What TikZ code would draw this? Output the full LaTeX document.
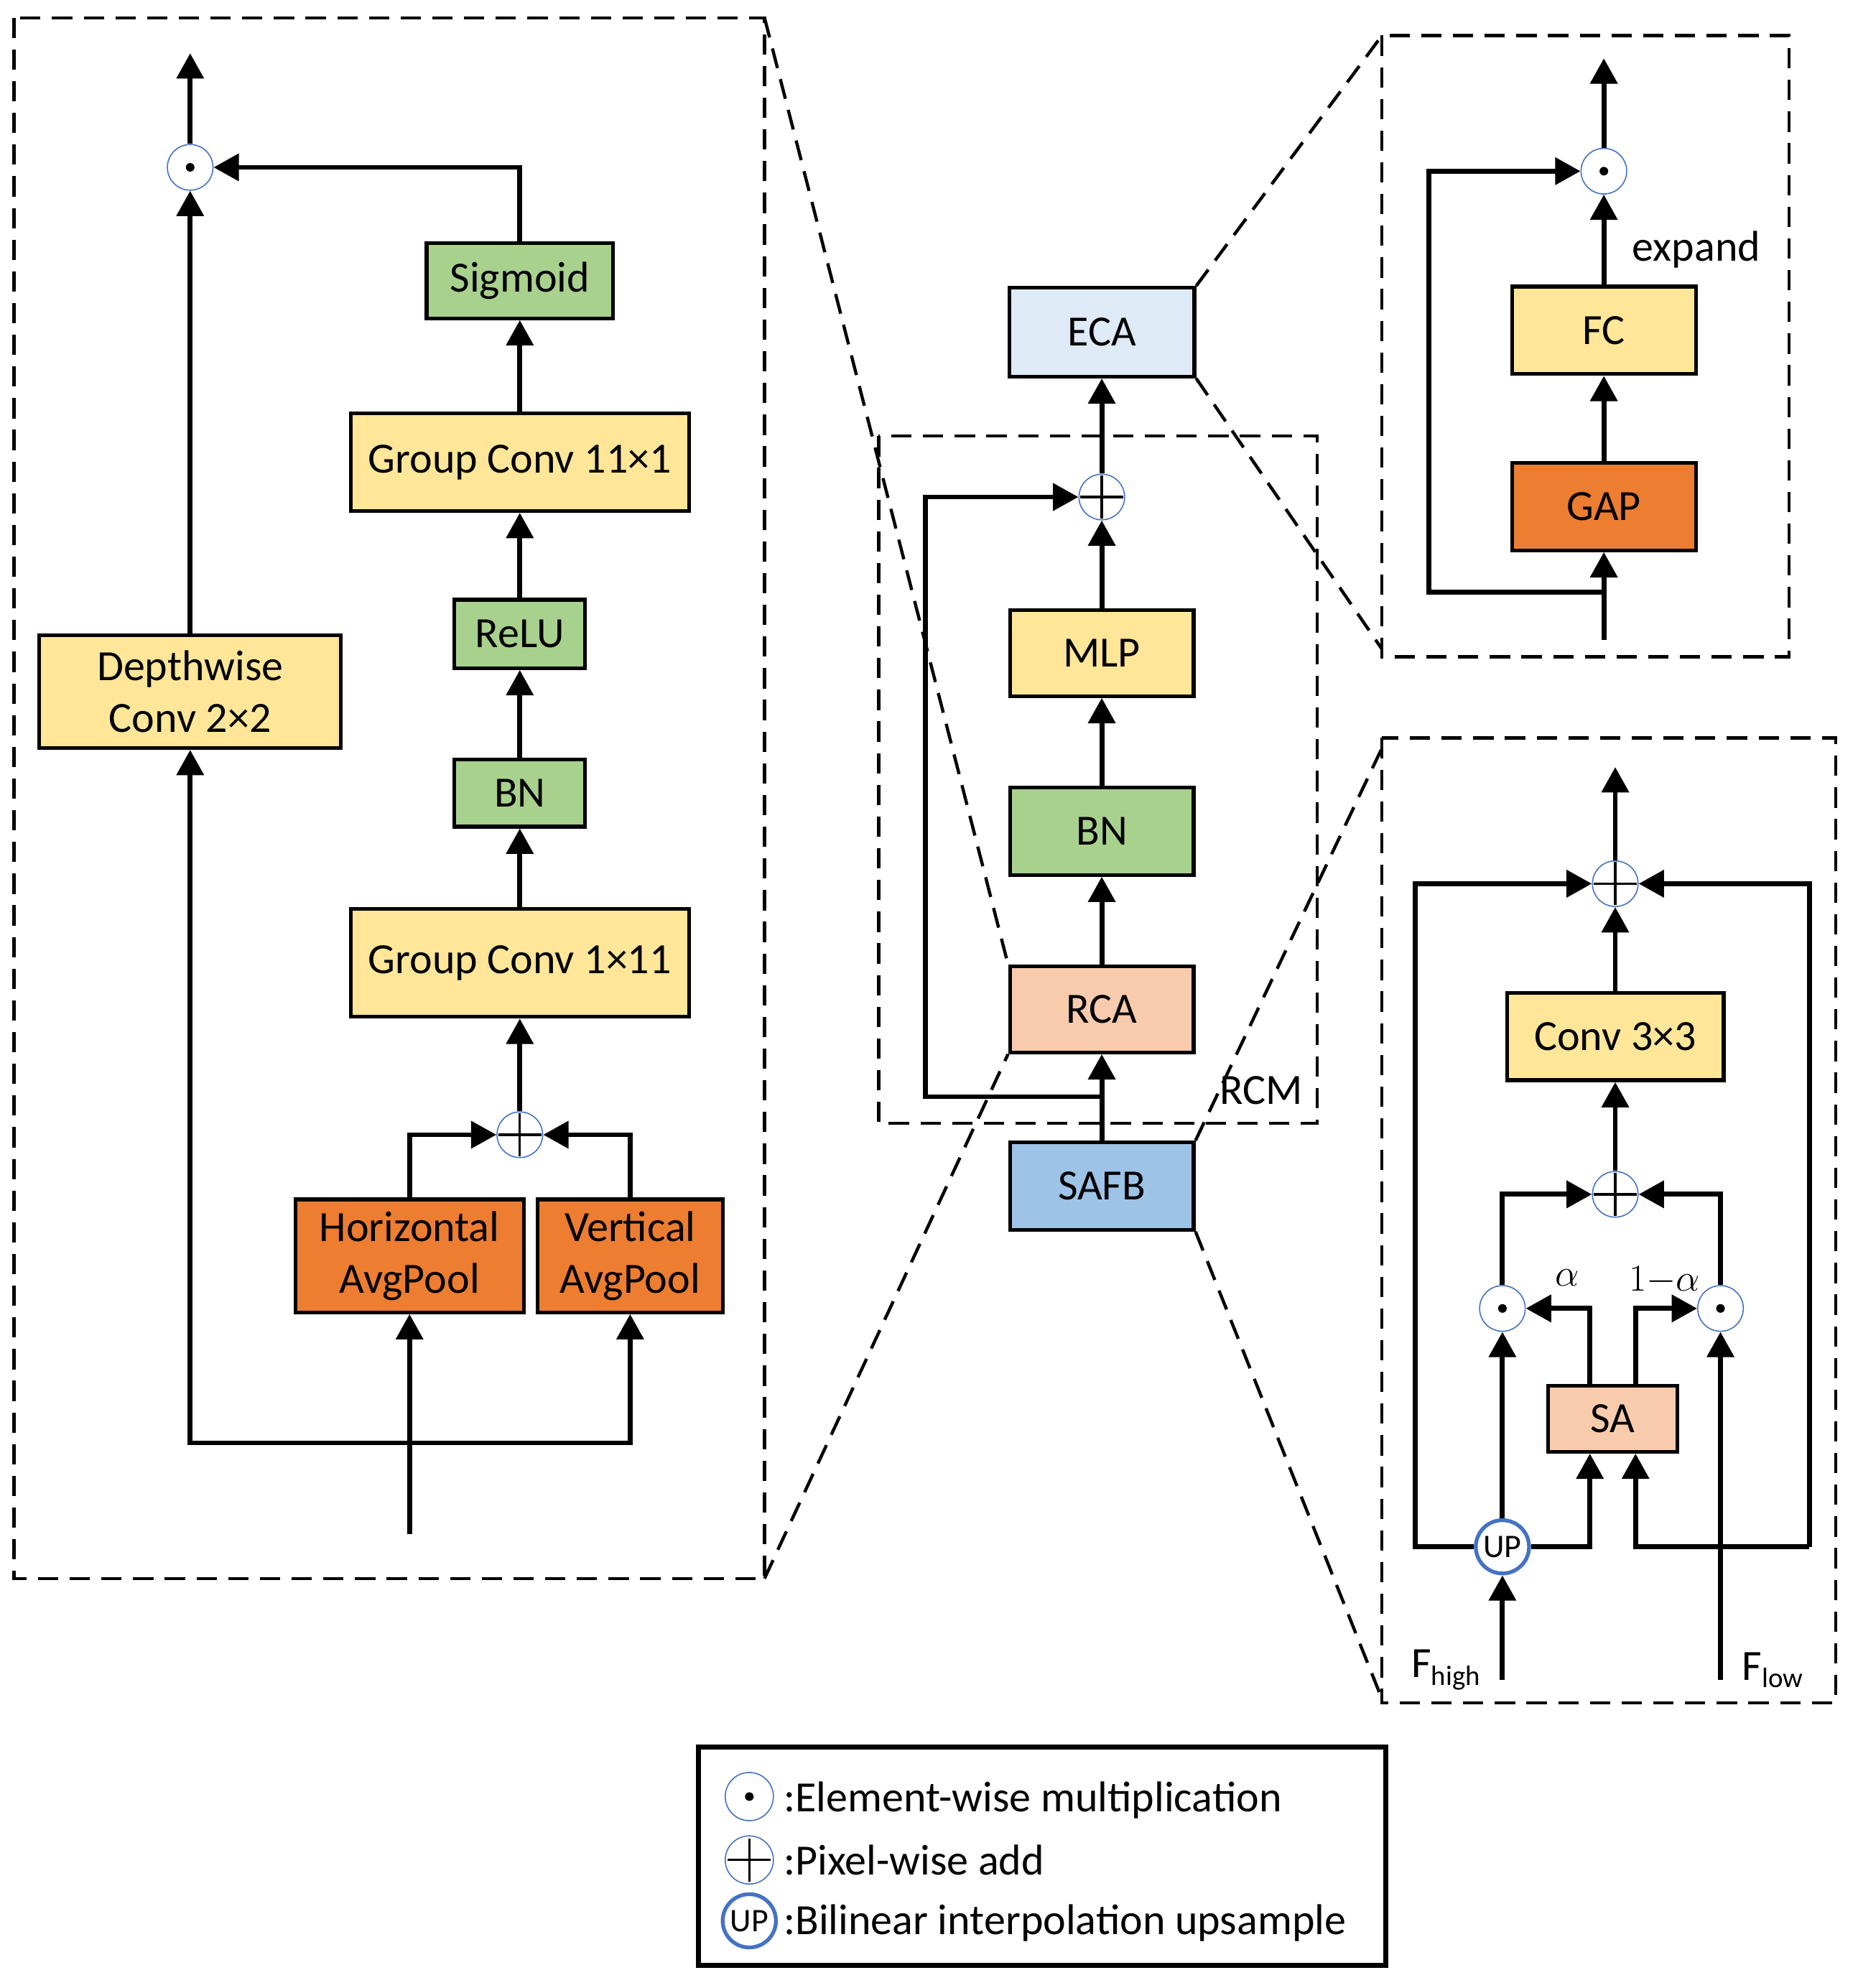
\documentclass[tikz,border=0pt]{standalone}
\usepackage{fix-cm}
\usepackage{fontspec}
\setmainfont{Carlito}
\usetikzlibrary{arrows.meta}
\definecolor{cyel}{HTML}{FFE699}
\definecolor{cgrn}{HTML}{A9D18E}
\definecolor{corg}{HTML}{ED7D31}
\definecolor{ceca}{HTML}{DEEBF7}
\definecolor{csafb}{HTML}{9DC3E6}
\definecolor{cpink}{HTML}{F8CBAD}
\definecolor{cblue}{HTML}{4472C4}
\newcommand\fsA{\fontsize{34}{41}\selectfont}
\newcommand\fsB{\fontsize{22}{24}\selectfont}
\newcommand\fsC{\fontsize{30}{32}\selectfont}
\begin{document}
\begin{tikzpicture}[x=1pt,y=-1pt,
  box/.style={draw, line width=2.9pt, inner sep=0pt, align=center, font=\fsA},
  arr/.style={line width=3.9pt, -{Triangle[length=20pt,width=21pt]}},
  dsh/.style={line width=2.5pt, dash pattern=on 16pt off 9pt},
  opc/.style={circle, draw=cblue, line width=0.9pt, minimum size=36pt, inner sep=0pt},
  odot/.style={opc, path picture={\fill[black] (path picture bounding box.center) circle (3.4pt);}},
  oplus/.style={opc, path picture={\draw[black, line width=1.8pt] ([xshift=-17pt]path picture bounding box.center) -- ([xshift=17pt]path picture bounding box.center) ([yshift=-17pt]path picture bounding box.center) -- ([yshift=17pt]path picture bounding box.center);}},
  upc/.style={circle, draw=cblue, line width=3pt, minimum size=42pt, inner sep=0pt, font=\fontsize{26}{26}\selectfont},
  lbl/.style={font=\fsA, inner sep=0pt}
]
\useasboundingbox (0,0) rectangle (1465,1568);

% ---------------- Left panel ----------------
\draw[dsh] (11,14) rectangle (603,1245);
\node[odot] (odL) at (150,132) {};
\coordinate (outL) at (150,42);
\node[box, fill=cgrn, minimum width=147pt, minimum height=59pt] (sig) at (410,221.5) {Sigmoid};
\node[box, fill=cyel, minimum width=267pt, minimum height=77pt] (gc11) at (410,364.5) {Group Conv 11×1};
\node[box, fill=cgrn, minimum width=103pt, minimum height=54pt] (relu) at (410,500) {ReLU};
\node[box, fill=cgrn, minimum width=103pt, minimum height=53pt] (bnL) at (410,625.5) {BN};
\node[box, fill=cyel, minimum width=267pt, minimum height=85pt] (gc111) at (410,759.5) {Group Conv 1×11};
\node[oplus] (plL) at (410,895) {};
\node[box, fill=corg, minimum width=180pt, minimum height=89pt] (havg) at (323,990.5) {Horizontal\\AvgPool};
\node[box, fill=corg, minimum width=146pt, minimum height=89pt] (vavg) at (497,990.5) {Vertical\\AvgPool};
\node[box, fill=cyel, minimum width=238pt, minimum height=89pt] (dw) at (150,545.5) {Depthwise\\Conv 2×2};
\coordinate (inL) at (323,1210);
\coordinate (jL) at (323,1138);

\draw[arr] (odL) -- (outL);
\draw[arr] (sig.north) |- (odL);
\draw[arr] (gc11) -- (sig);
\draw[arr] (relu) -- (gc11);
\draw[arr] (bnL) -- (relu);
\draw[arr] (gc111) -- (bnL);
\draw[arr] (plL) -- (gc111);
\draw[arr] (havg.north) |- (plL);
\draw[arr] (vavg.north) |- (plL);
\draw[arr] (dw) -- (odL);
\draw[arr] (inL) -- (havg);
\draw[arr] (jL) -| (dw);
\draw[arr] (jL) -| (vavg);

% ---------------- Middle ----------------
\draw[dsh] (693,344) rectangle (1039,886);
\node[lbl] (rcm) at (995,860) {RCM};
\node[box, fill=ceca, minimum width=146pt, minimum height=70pt] (eca) at (869,262) {ECA};
\node[oplus] (plM) at (869,392) {};
\node[box, fill=cyel, minimum width=145pt, minimum height=68pt] (mlp) at (869,515) {MLP};
\node[box, fill=cgrn, minimum width=145pt, minimum height=69pt] (bnM) at (869,655.5) {BN};
\node[box, fill=cpink, minimum width=145pt, minimum height=68pt] (rca) at (869,796) {RCA};
\node[box, fill=csafb, minimum width=145pt, minimum height=69pt] (safb) at (869,935.5) {SAFB};
\coordinate (jM) at (869,865);
\coordinate (kM) at (730,865);

\draw[arr] (plM) -- (eca);
\draw[arr] (mlp) -- (plM);
\draw[arr] (bnM) -- (mlp);
\draw[arr] (rca) -- (bnM);
\draw[arr] (safb) -- (rca);
\draw[arr] (jM) -- (kM) |- (plM);

% ---------------- Right top (ECA) ----------------
\draw[dsh] (1090,28) rectangle (1411,518);
\node[odot] (odE) at (1265,135) {};
\coordinate (outE) at (1265,46);
\node[box, fill=cyel, minimum width=145pt, minimum height=69pt] (fc) at (1265,260.5) {FC};
\node[box, fill=corg, minimum width=145pt, minimum height=69pt] (gap) at (1265,399.5) {GAP};
\node[lbl] (expand) at (1338,197) {expand};
\coordinate (inE) at (1265,505);
\coordinate (jE) at (1265,467);
\coordinate (kE) at (1127,467);

\draw[arr] (odE) -- (outE);
\draw[arr] (fc) -- (odE);
\draw[arr] (gap) -- (fc);
\draw[arr] (inE) -- (gap);
\draw[arr] (jE) -- (kE) |- (odE);

% ---------------- Right bottom (SAFB) ----------------
\draw[dsh] (1090,582) rectangle (1448,1343);
\node[oplus] (plA) at (1274,697) {};
\coordinate (outA) at (1274,605);
\node[box, fill=cyel, minimum width=171pt, minimum height=69pt] (conv) at (1274,817.5) {Conv 3×3};
\node[oplus] (plB) at (1274,942) {};
\node[odot] (odA) at (1185,1032) {};
\node[odot] (odB) at (1357,1032) {};
\node[box, fill=cpink, minimum width=102pt, minimum height=52pt] (sa) at (1272,1119) {SA};
\node[upc] (up) at (1185,1220) {UP};
\coordinate (inA) at (1185,1325);
\coordinate (inB) at (1357,1325);
\coordinate (lA) at (1116,1220);
\coordinate (rA) at (1427,1220);
\coordinate (sL) at (1254,1220);
\coordinate (sR) at (1290,1220);
\node[font=\fsC, inner sep=0pt] (alab) at (1236,1008) {$\alpha$};
\node[font=\fsC, inner sep=0pt] (blab) at (1313,1010) {$1{-}\alpha$};
\node[lbl, anchor=base west] (fhigh) at (1113,1323) {F\raisebox{-6pt}{\fsB high}};
\node[lbl, anchor=base west] (flow) at (1374,1325) {F\raisebox{-6pt}{\fsB low}};

\draw[arr] (plA) -- (outA);
\draw[arr] (conv) -- (plA);
\draw[arr] (plB) -- (conv);
\draw[arr] (odA.north) |- (plB);
\draw[arr] (odB.north) |- (plB);
\draw[arr] ([xshift=-18pt]sa.north) |- (odA);
\draw[arr] ([xshift=18pt]sa.north) |- (odB);
\draw[arr] (inA) -- (up);
\draw[arr] (up) -- (odA);
\draw[arr] (up.east) -- (sL) -- (sL |- sa.south);
\draw[arr] (up.west) -- (lA) |- (plA);
\draw[arr] (inB) -- (odB);
\draw[arr] (rA) -- (sR) -- (sR |- sa.south);
\draw[arr] (rA) |- (plA);

% ---------------- Zoom connectors ----------------
\draw[dsh] (603,14) -- (rca.north west);
\draw[dsh] (603,1245) -- (rca.south west);
\draw[dsh] (eca.north east) -- (1090,28);
\draw[dsh] (eca.south east) -- (1090,512);
\draw[dsh] (safb.north east) -- (1090,590);
\draw[dsh] (safb.south east) -- (1090,1340);

% ---------------- Legend ----------------
\draw[line width=3.8pt] (551,1378) rectangle (1093,1550);
\node[odot, minimum size=38pt] (lg1) at (591,1417) {};
\node[oplus, minimum size=38pt] (lg2) at (591,1467) {};
\node[upc] (lg3) at (591,1515) {UP};
\node[lbl, anchor=base west] (t1) at (618,1429) {:Element-wise multiplication};
\node[lbl, anchor=base west] (t2) at (618,1479) {:Pixel-wise add};
\node[lbl, anchor=base west] (t3) at (618,1526) {:Bilinear interpolation upsample};
\end{tikzpicture}
\end{document}
